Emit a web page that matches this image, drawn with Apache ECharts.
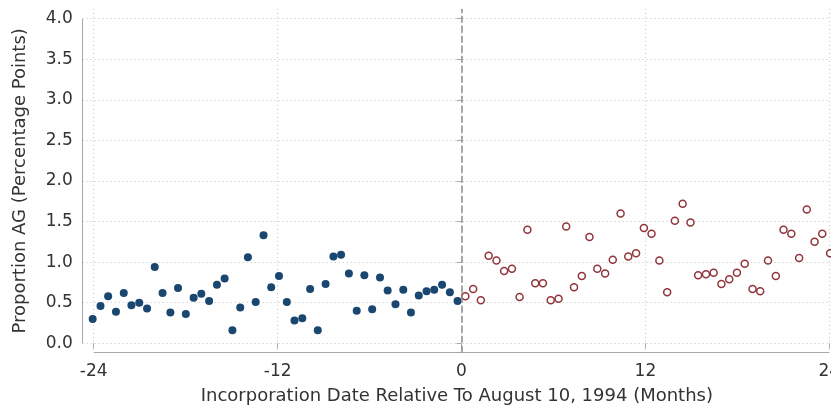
<!DOCTYPE html>
<html>
<head>
<meta charset="utf-8">
<script src="https://cdn.jsdelivr.net/npm/echarts@6/dist/echarts.min.js"></script>
<style>
    html, body { margin: 0; padding: 0; background: #fff; }
    #main { width: 831px; height: 406px; }
</style>
</head>
<body>
<div id="main"></div>
<script>
// months relative to Aug 10, 1994 (half-month bins)
var preX = [-24.07, -23.56, -23.06, -22.55, -22.04, -21.54, -21.03, -20.52, -20.02, -19.51,
    -19.00, -18.50, -17.99, -17.48, -16.98, -16.47, -15.96, -15.46, -14.95, -14.44,
    -13.94, -13.43, -12.92, -12.42, -11.91, -11.40, -10.90, -10.39, -9.88, -9.38,
    -8.87, -8.36, -7.86, -7.35, -6.84, -6.34, -5.83, -5.32, -4.82, -4.31,
    -3.80, -3.30, -2.79, -2.28, -1.78, -1.27, -0.76, -0.26];
var preY = [0.30, 0.46, 0.58, 0.39, 0.62, 0.47, 0.50, 0.43, 0.94, 0.62,
    0.38, 0.68, 0.36, 0.56, 0.61, 0.52, 0.72, 0.80, 0.16, 0.44,
    1.06, 0.51, 1.33, 0.69, 0.83, 0.51, 0.28, 0.31, 0.67, 0.16,
    0.73, 1.07, 1.09, 0.86, 0.40, 0.84, 0.42, 0.81, 0.65, 0.48,
    0.66, 0.38, 0.59, 0.64, 0.66, 0.72, 0.63, 0.52];
var postX = [0.25, 0.76, 1.26, 1.77, 2.28, 2.78, 3.29, 3.79, 4.30, 4.81,
    5.31, 5.82, 6.33, 6.83, 7.34, 7.85, 8.35, 8.86, 9.37, 9.87,
    10.38, 10.88, 11.39, 11.90, 12.40, 12.91, 13.42, 13.92, 14.43, 14.94,
    15.44, 15.95, 16.45, 16.96, 17.47, 17.97, 18.48, 18.99, 19.49, 20.00,
    20.51, 21.01, 21.52, 22.03, 22.53, 23.04, 23.54, 24.05];
var postY = [0.58, 0.67, 0.53, 1.08, 1.02, 0.89, 0.92, 0.57, 1.40, 0.74,
    0.74, 0.53, 0.55, 1.44, 0.69, 0.83, 1.31, 0.92, 0.86, 1.03,
    1.60, 1.07, 1.11, 1.42, 1.35, 1.02, 0.63, 1.51, 1.72, 1.49,
    0.84, 0.85, 0.87, 0.73, 0.79, 0.87, 0.98, 0.67, 0.64, 1.02,
    0.83, 1.40, 1.35, 1.05, 1.65, 1.25, 1.35, 1.11];
var xTicks = [-24, -12, 0, 12, 24];
var yTicks = [0, 0.5, 1, 1.5, 2, 2.5, 3, 3.5, 4];

var xMin = -24.72, xMax = 24.11;
var yMin = -0.116, yMax = 4.12;

function zip(xs, ys) {
    return xs.map(function (x, i) { return [x, ys[i]]; });
}

var myChart = echarts.init(document.getElementById('main'));
var font = 'DejaVu Sans';
var textColor = '#333';
var axisColor = '#a8a8a8';
var gridLine = { show: true, lineStyle: { color: '#c8c8c8', type: [1, 3], width: 1 } };

var option = {
    animation: false,
    textStyle: { fontFamily: font },
    grid: { left: 82.7, right: 0, top: 9, bottom: 53.3, outerBoundsMode: 'none', containLabel: false },
    xAxis: {
        type: 'value',
        min: xMin,
        max: xMax,
        name: 'Incorporation Date Relative To August 10, 1994 (Months)',
        nameLocation: 'middle',
        nameGap: 35,
        nameTextStyle: { fontFamily: font, fontSize: 18, color: textColor },
        axisLine: { show: false },
        axisTick: { show: true, customValues: xTicks, length: 5, lineStyle: { color: axisColor } },
        axisLabel: { customValues: xTicks, fontFamily: font, fontSize: 17, color: textColor, margin: 10 },
        splitLine: gridLine
    },
    yAxis: {
        type: 'value',
        min: yMin,
        max: yMax,
        name: 'Proportion AG (Percentage Points)',
        nameLocation: 'middle',
        nameGap: 53,
        nameTextStyle: { fontFamily: font, fontSize: 18, color: textColor },
        axisLine: { show: false },
        axisTick: { show: true, customValues: yTicks, length: 5, lineStyle: { color: axisColor } },
        axisLabel: {
            customValues: yTicks, fontFamily: font, fontSize: 17, color: textColor, margin: 10,
            formatter: function (v) { return v.toFixed(1); }
        },
        splitLine: gridLine
    },
    series: [
        {
            name: 'pre',
            type: 'scatter',
            data: zip(preX, preY),
            symbol: 'circle',
            symbolSize: 8,
            itemStyle: { color: '#1a476f', opacity: 1 },
            z: 3,
            markLine: {
                silent: true,
                symbol: 'none',
                label: { show: false },
                data: [
                    [{ coord: [xMin, 0], lineStyle: { color: axisColor, width: 1, type: 'solid' } },
                        { coord: [xMin, 4] }],
                    [{ coord: [-24, yMin], lineStyle: { color: axisColor, width: 1, type: 'solid' } },
                        { coord: [24, yMin] }],
                    [{ coord: [0, yMin], lineStyle: { color: '#8c8c8c', width: 1.5, type: [7, 3] } },
                        { coord: [0, yMax] }]
                ]
            }
        },
        {
            name: 'post',
            type: 'scatter',
            data: zip(postX, postY),
            symbol: 'circle',
            symbolSize: 7,
            itemStyle: { color: '#fff', borderColor: '#90353b', borderWidth: 1.5, opacity: 1 },
            z: 3
        }
    ]
};

myChart.setOption(option);
</script>
</body>
</html>
